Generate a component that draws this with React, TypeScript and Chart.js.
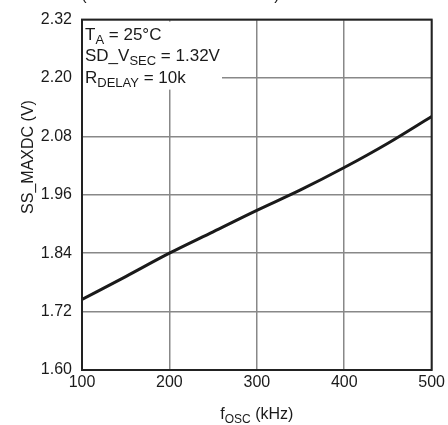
import React, { useEffect, useRef } from "react";
import { Chart, registerables } from "chart.js";

Chart.register(...registerables);

const freqKHz = [100, 150, 200, 250, 300, 350, 400, 450, 500];
const ssMaxdc = [1.745, 1.792, 1.84, 1.884, 1.928, 1.97, 2.016, 2.066, 2.121];
const xTickValues = [100, 200, 300, 400, 500];
const yTickValues = [1.6, 1.72, 1.84, 1.96, 2.08, 2.2, 2.32];

const FONT = '"Liberation Sans", Arial, sans-serif';

type Seg = [string, boolean];

function drawSegs(ctx: CanvasRenderingContext2D, segs: Seg[], x: number, y: number, size: number, subSize: number, align: "left" | "center" = "left") {
  const widths = segs.map(([t, sub]) => {
    ctx.font = `${sub ? subSize : size}px ${FONT}`;
    return ctx.measureText(t).width;
  });
  const total = widths.reduce((a, b) => a + b, 0);
  let cx = align === "center" ? x - total / 2 : x;
  ctx.textAlign = "left";
  ctx.textBaseline = "alphabetic";
  segs.forEach(([t, sub], i) => {
    ctx.font = `${sub ? subSize : size}px ${FONT}`;
    ctx.fillText(t, cx, sub ? y + 4 : y);
    cx += widths[i];
  });
}

const annotationPlugin = {
  id: "annot",
  beforeDatasetsDraw(chart: any) {
    const ctx = chart.ctx as CanvasRenderingContext2D;
    const a = chart.chartArea;
    ctx.save();
    ctx.fillStyle = "#ffffff";
    ctx.fillRect(a.left + 1, a.top + 2, 139, 68);
    ctx.fillStyle = "#1a1a1a";
    drawSegs(ctx, [["T", false], ["A", true], [" = 25°C", false]], a.left + 3, 40, 17, 13);
    drawSegs(ctx, [["SD_V", false], ["SEC", true], [" = 1.32V", false]], a.left + 3, 61, 17, 13);
    drawSegs(ctx, [["R", false], ["DELAY", true], [" = 10k", false]], a.left + 3, 83, 17, 13);
    ctx.restore();
  },
  afterDraw(chart: any) {
    const ctx = chart.ctx as CanvasRenderingContext2D;
    const a = chart.chartArea;
    ctx.save();
    ctx.strokeStyle = "#222222";
    ctx.lineWidth = 2;
    ctx.strokeRect(a.left, a.top, a.right - a.left, a.bottom - a.top);
    ctx.fillStyle = "#1a1a1a";
    // x-axis title
    drawSegs(ctx, [["f", false], ["OSC", true], [" (kHz)", false]], (a.left + a.right) / 2, 419, 16, 12, "center");
    // y-axis title
    ctx.translate(29, 157);
    ctx.rotate(-Math.PI / 2);
    ctx.font = `16px ${FONT}`;
    ctx.textAlign = "center";
    ctx.textBaseline = "middle";
    ctx.fillText("SS_MAXDC (V)", 0, 0);
    ctx.restore();
    // clipped title parentheses at very top
    ctx.save();
    ctx.font = `16px ${FONT}`;
    ctx.textAlign = "center";
    ctx.textBaseline = "alphabetic";
    ctx.fillStyle = "#1a1a1a";
    ctx.fillText("(", 84, 0);
    ctx.fillText(")", 277, 0);
    ctx.restore();
  },
};

export default function App() {
  const ref = useRef<HTMLCanvasElement | null>(null);
  useEffect(() => {
    if (!ref.current) return;
    const chart = new Chart(ref.current, {
      type: "line",
      data: {
        datasets: [
          {
            data: freqKHz.map((f, i) => ({ x: f, y: ssMaxdc[i] })),
            borderColor: "#1a1a1a",
            borderWidth: 3,
            pointRadius: 0,
            tension: 0.4,
            cubicInterpolationMode: "monotone",
          },
        ],
      },
      options: {
        responsive: false,
        animation: false,
        layout: { padding: { top: 19, right: 15, left: 0, bottom: 0 } },
        plugins: { legend: { display: false }, tooltip: { enabled: false }, title: { display: false } },
        scales: {
          x: {
            type: "linear",
            min: 100,
            max: 500,
            afterBuildTicks: (s: any) => {
              s.ticks = xTickValues.map((v) => ({ value: v }));
            },
            afterFit: (s: any) => {
              s.height = 55;
            },
            grid: { color: "#888888", lineWidth: 1.5, drawTicks: false },
            border: { display: false },
            ticks: {
              padding: 3,
              color: "#1a1a1a",
              font: { family: FONT, size: 16 },
              maxRotation: 0,
              callback: (v: any) => String(v),
            },
          },
          y: {
            type: "linear",
            min: 1.6,
            max: 2.32,
            afterBuildTicks: (s: any) => {
              s.ticks = yTickValues.map((v) => ({ value: v }));
            },
            afterFit: (s: any) => {
              s.width = 82;
            },
            grid: { color: "#888888", lineWidth: 1.5, drawTicks: false },
            border: { display: false },
            ticks: {
              padding: 10,
              color: "#1a1a1a",
              font: { family: FONT, size: 16 },
              callback: (v: any) => Number(v).toFixed(2),
            },
          },
        },
      },
      plugins: [annotationPlugin],
    });
    return () => chart.destroy();
  }, []);
  return (
    <div style={{ position: "absolute", left: 0, top: 0, width: 448, height: 425, background: "#fff" }}>
      <canvas ref={ref} width={448} height={425} style={{ display: "block", width: 448, height: 425 }} />
    </div>
  );
}
